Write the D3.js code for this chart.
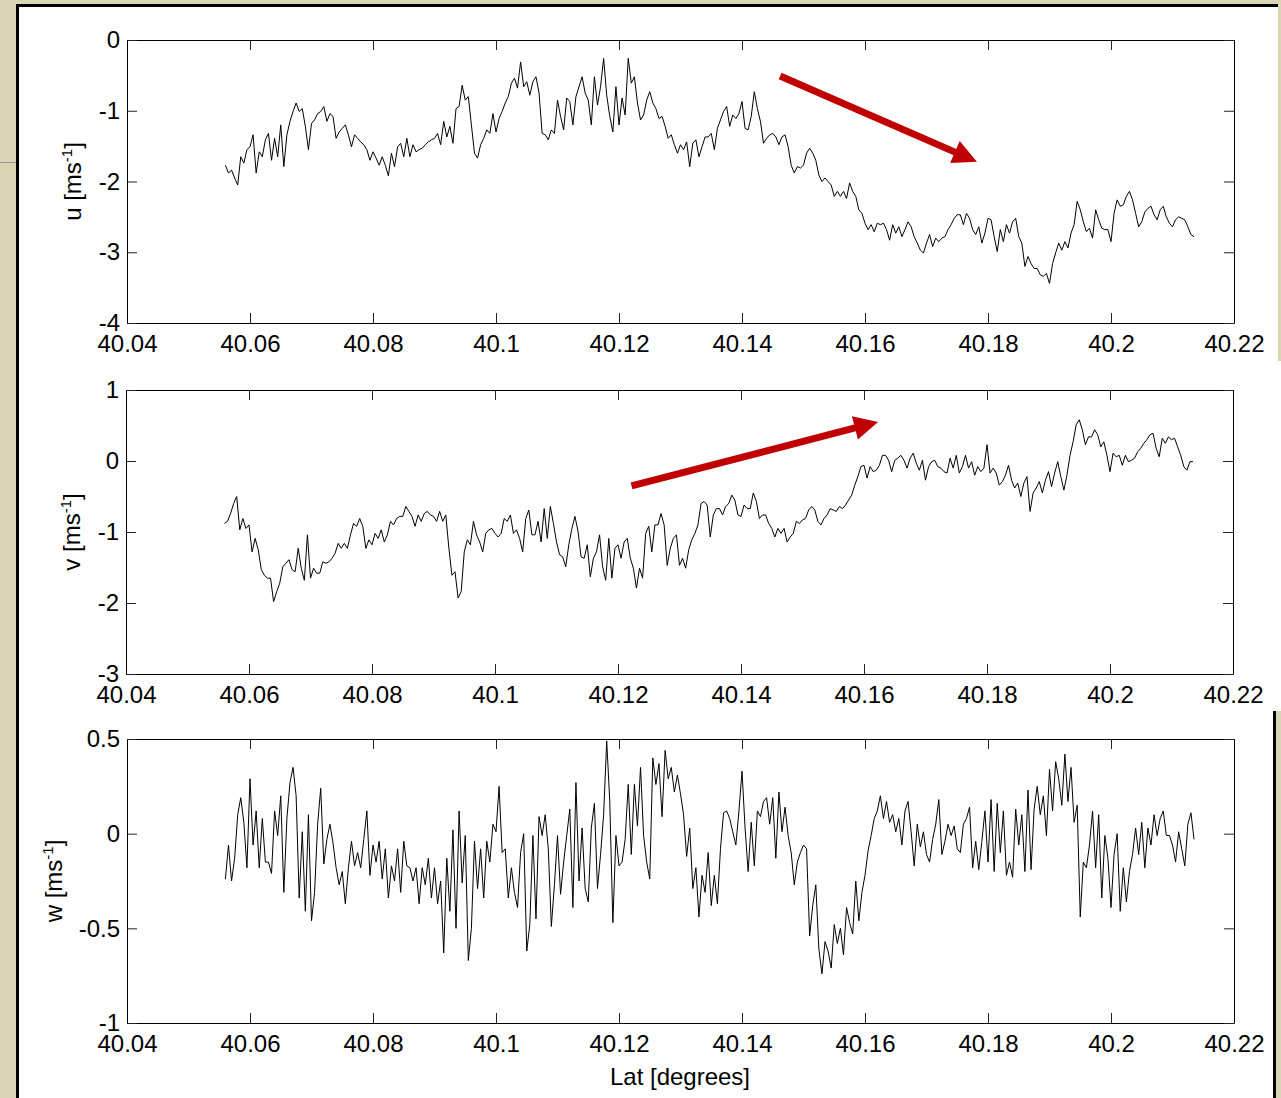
<!DOCTYPE html>
<html>
<head>
<meta charset="utf-8">
<script src="https://cdn.jsdelivr.net/npm/d3@7/dist/d3.min.js"></script>
<style>
  html, body { margin: 0; padding: 0; background: #ffffff; }
  svg { display: block; }
  text { font-family: "Liberation Sans", Arial, sans-serif; fill: #000; }
</style>
</head>
<body>
<div id="chart"></div>
<script>
// samples along the track, every 0.0005 deg of latitude
const latStart = 40.056;
const latStep = 0.0005;

const uVals = [
  -1.77, -1.88, -1.84, -1.95, -2.05, -1.65, -1.74, -1.55, -1.51, -1.34,
  -1.88, -1.58, -1.65, -1.41, -1.32, -1.70, -1.39, -1.65, -1.20, -1.79,
  -1.34, -1.15, -1.01, -0.89, -1.01, -0.97, -1.22, -1.55, -1.18, -1.13,
  -1.04, -1.01, -0.94, -1.15, -1.04, -1.08, -1.39, -1.30, -1.25, -1.20,
  -1.34, -1.51, -1.34, -1.39, -1.44, -1.48, -1.55, -1.70, -1.58, -1.67,
  -1.77, -1.65, -1.77, -1.92, -1.60, -1.79, -1.51, -1.46, -1.65, -1.39,
  -1.65, -1.48, -1.58, -1.55, -1.53, -1.48, -1.44, -1.41, -1.39, -1.32,
  -1.48, -1.15, -1.37, -1.22, -1.46, -0.97, -0.94, -0.64, -0.85, -0.80,
  -1.20, -1.60, -1.67, -1.48, -1.39, -1.27, -1.32, -1.04, -1.30, -1.11,
  -1.01, -0.89, -0.80, -0.61, -0.54, -0.68, -0.31, -0.66, -0.59, -0.78,
  -0.59, -0.52, -0.75, -1.32, -1.34, -1.41, -1.27, -1.32, -0.85, -1.08,
  -1.27, -0.82, -0.87, -1.20, -0.80, -0.66, -0.52, -0.75, -0.85, -1.20,
  -0.52, -0.92, -0.66, -0.26, -0.78, -1.08, -1.30, -0.66, -1.20, -0.82,
  -1.06, -0.26, -0.61, -0.52, -0.89, -1.13, -1.06, -0.85, -0.73, -0.89,
  -0.97, -1.11, -1.08, -1.22, -1.39, -1.34, -1.48, -1.60, -1.48, -1.55,
  -1.44, -1.79, -1.46, -1.41, -1.65, -1.51, -1.37, -1.37, -1.32, -1.55,
  -1.25, -1.13, -1.01, -0.94, -1.22, -1.06, -1.11, -1.04, -0.87, -1.25,
  -1.27, -1.08, -0.73, -0.97, -1.15, -1.46, -1.39, -1.34, -1.32, -1.37,
  -1.48, -1.37, -1.34, -1.51, -1.77, -1.88, -1.79, -1.81, -1.77, -1.60,
  -1.53, -1.60, -1.70, -1.91, -2.00, -1.95, -2.00, -2.05, -2.21, -2.14,
  -2.21, -2.14, -2.24, -2.02, -2.14, -2.21, -2.40, -2.45, -2.59, -2.68,
  -2.61, -2.71, -2.59, -2.61, -2.59, -2.68, -2.83, -2.61, -2.73, -2.64,
  -2.78, -2.68, -2.57, -2.64, -2.78, -2.87, -2.97, -3.01, -2.87, -2.75,
  -2.92, -2.80, -2.85, -2.80, -2.78, -2.68, -2.61, -2.52, -2.47, -2.47,
  -2.61, -2.45, -2.52, -2.68, -2.75, -2.64, -2.87, -2.73, -2.52, -2.54,
  -2.78, -2.99, -2.68, -2.85, -2.61, -2.73, -2.57, -2.52, -2.78, -2.87,
  -3.20, -3.06, -3.16, -3.23, -3.23, -3.32, -3.34, -3.30, -3.44, -3.16,
  -3.01, -2.87, -2.97, -2.85, -2.94, -2.73, -2.61, -2.28, -2.40, -2.57,
  -2.71, -2.66, -2.80, -2.40, -2.54, -2.66, -2.68, -2.68, -2.85, -2.45,
  -2.26, -2.35, -2.33, -2.21, -2.14, -2.26, -2.45, -2.64, -2.57, -2.43,
  -2.38, -2.35, -2.47, -2.54, -2.40, -2.35, -2.50, -2.59, -2.64, -2.54,
  -2.50, -2.52, -2.54, -2.64, -2.75, -2.78
];

const vVals = [
  -0.88, -0.85, -0.74, -0.60, -0.50, -0.97, -0.81, -0.95, -0.90, -1.28,
  -1.09, -1.25, -1.53, -1.61, -1.65, -1.65, -1.98, -1.84, -1.72, -1.49,
  -1.44, -1.39, -1.53, -1.56, -1.23, -1.51, -1.68, -1.04, -1.65, -1.51,
  -1.58, -1.58, -1.42, -1.44, -1.42, -1.37, -1.30, -1.16, -1.23, -1.16,
  -1.23, -1.04, -0.88, -0.92, -0.81, -0.92, -1.23, -1.11, -1.18, -1.02,
  -1.09, -0.97, -1.14, -1.04, -0.85, -0.90, -0.81, -0.78, -0.78, -0.64,
  -0.71, -0.78, -0.92, -0.76, -0.85, -0.74, -0.71, -0.76, -0.78, -0.85,
  -0.71, -0.85, -0.76, -1.23, -1.61, -1.56, -1.93, -1.84, -1.28, -1.11,
  -1.18, -0.85, -1.04, -1.14, -1.28, -1.02, -0.97, -0.95, -1.02, -1.07,
  -1.02, -0.81, -0.85, -0.76, -1.02, -0.97, -1.09, -1.28, -0.81, -0.69,
  -1.04, -1.04, -0.85, -1.14, -0.67, -1.09, -0.64, -0.88, -1.14, -1.32,
  -1.35, -1.49, -1.18, -0.95, -0.78, -0.99, -1.35, -1.37, -1.18, -1.63,
  -1.37, -1.28, -1.04, -1.49, -1.68, -1.09, -1.65, -1.23, -1.18, -1.37,
  -1.14, -1.09, -1.37, -1.51, -1.79, -1.51, -1.65, -1.02, -0.92, -1.28,
  -0.90, -0.90, -0.74, -0.90, -1.47, -1.23, -1.09, -1.04, -1.47, -1.37,
  -1.51, -1.25, -1.11, -1.02, -0.90, -0.60, -0.57, -0.62, -1.07, -0.76,
  -0.67, -0.67, -0.76, -0.64, -0.60, -0.48, -0.55, -0.76, -0.78, -0.62,
  -0.67, -0.67, -0.45, -0.57, -0.81, -0.76, -0.76, -0.88, -0.95, -1.07,
  -0.95, -1.02, -0.95, -1.14, -1.07, -1.02, -0.85, -0.88, -0.83, -0.81,
  -0.69, -0.64, -0.69, -0.85, -0.90, -0.81, -0.76, -0.67, -0.69, -0.71,
  -0.64, -0.67, -0.62, -0.55, -0.48, -0.34, -0.22, -0.08, -0.06, -0.24,
  -0.08, -0.15, -0.13, -0.06, 0.08, 0.08, 0.01, -0.15, 0.01, 0.04,
  0.08, 0.01, -0.10, 0.04, 0.11, -0.03, -0.13, 0.01, -0.27, -0.08,
  -0.01, 0.01, -0.08, -0.10, -0.15, -0.17, 0.04, -0.10, 0.08, -0.17,
  -0.08, 0.08, -0.10, -0.01, -0.20, -0.08, -0.15, -0.10, 0.23, -0.17,
  -0.10, -0.17, -0.34, -0.29, -0.20, -0.06, -0.27, -0.38, -0.31, -0.50,
  -0.31, -0.22, -0.71, -0.45, -0.38, -0.29, -0.45, -0.27, -0.15, -0.36,
  -0.17, -0.01, -0.22, -0.41, -0.20, 0.08, 0.27, 0.51, 0.58, 0.44,
  0.23, 0.34, 0.34, 0.44, 0.37, 0.20, 0.27, 0.08, -0.15, 0.11,
  0.06, 0.08, -0.06, 0.08, -0.01, 0.01, 0.04, 0.13, 0.18, 0.25,
  0.30, 0.37, 0.39, 0.18, 0.06, 0.32, 0.25, 0.34, 0.30, 0.32,
  0.20, 0.08, -0.08, -0.13, -0.01, -0.01
];

const wVals = [
  -0.24, -0.06, -0.25, -0.13, 0.10, 0.19, 0.06, -0.18, 0.29, -0.06,
  0.12, -0.18, 0.08, -0.15, -0.15, -0.21, 0.12, -0.01, 0.20, -0.31,
  0.08, 0.27, 0.35, 0.20, -0.34, 0.01, -0.41, 0.10, -0.46, -0.31,
  0.05, 0.24, -0.16, -0.03, 0.05, -0.05, -0.18, -0.27, -0.20, -0.37,
  -0.18, -0.04, -0.17, -0.10, -0.18, -0.03, 0.12, -0.22, -0.06, -0.15,
  -0.04, -0.24, -0.08, -0.34, -0.17, -0.25, -0.08, -0.31, -0.04, -0.17,
  -0.18, -0.25, -0.18, -0.37, -0.18, -0.27, -0.13, -0.34, -0.18, -0.37,
  -0.25, -0.63, -0.13, -0.41, 0.02, -0.50, 0.12, -0.26, -0.01, -0.67,
  -0.50, -0.04, -0.29, -0.08, -0.34, -0.04, -0.15, 0.05, 0.01, 0.25,
  -0.10, -0.08, -0.34, -0.18, -0.31, -0.39, -0.10, 0.00, -0.62, -0.48,
  -0.01, -0.45, 0.09, -0.01, 0.10, -0.08, -0.49, -0.27, -0.01, -0.32,
  -0.15, -0.01, 0.13, -0.39, 0.27, -0.25, 0.03, -0.29, -0.36, 0.03,
  0.16, -0.29, -0.11, 0.10, 0.49, 0.17, -0.47, -0.01, -0.17, -0.15,
  -0.03, 0.26, -0.11, 0.26, 0.04, 0.35, -0.01, -0.15, -0.24, 0.40,
  0.26, 0.37, 0.09, 0.44, 0.29, 0.35, 0.22, 0.31, 0.21, 0.10,
  -0.12, 0.03, -0.29, -0.18, -0.44, -0.22, -0.31, -0.10, -0.38, -0.22,
  -0.37, -0.08, 0.11, 0.12, 0.08, 0.01, -0.06, 0.12, 0.33, 0.03,
  -0.20, 0.06, -0.17, 0.12, 0.09, 0.17, 0.19, 0.05, 0.19, -0.13,
  0.22, 0.01, 0.14, -0.01, -0.10, -0.27, -0.15, -0.10, -0.06, -0.08,
  -0.54, -0.38, -0.27, -0.61, -0.74, -0.57, -0.62, -0.71, -0.48, -0.58,
  -0.50, -0.64, -0.39, -0.47, -0.53, -0.25, -0.46, -0.31, -0.22, -0.09,
  -0.01, 0.08, 0.12, 0.20, 0.08, 0.17, 0.06, 0.10, 0.01, 0.08,
  -0.06, 0.12, 0.17, 0.01, -0.17, 0.05, -0.07, 0.01, -0.11, -0.15,
  -0.03, 0.05, 0.18, -0.11, -0.04, 0.05, -0.01, 0.04, -0.08, -0.10,
  0.05, 0.08, 0.14, -0.18, -0.04, -0.19, -0.04, 0.12, -0.15, 0.18,
  -0.20, 0.16, -0.10, 0.12, -0.22, -0.15, -0.23, 0.13, -0.06, 0.10,
  -0.20, 0.23, -0.19, 0.13, 0.25, 0.10, 0.20, -0.01, 0.34, 0.12,
  0.38, 0.29, 0.15, 0.42, 0.17, 0.35, 0.06, 0.15, -0.44, -0.15,
  -0.18, -0.06, 0.12, -0.18, 0.10, -0.34, -0.01, -0.13, -0.39, -0.11,
  0.00, -0.41, -0.18, -0.36, -0.20, -0.11, 0.03, -0.11, 0.06, -0.18,
  0.03, -0.06, 0.10, -0.01, 0.08, 0.12, -0.01, -0.01, -0.06, -0.15,
  0.01, -0.08, -0.17, 0.05, 0.11, -0.03
];

const xTicks = [40.04, 40.06, 40.08, 40.10, 40.12, 40.14, 40.16, 40.18, 40.20, 40.22];
const xTickLabels = ['40.04', '40.06', '40.08', '40.1', '40.12', '40.14', '40.16', '40.18', '40.2', '40.22'];
const uTicks = [0, -1, -2, -3, -4];
const uTickLabels = ['0', '-1', '-2', '-3', '-4'];
const vTicks = [1, 0, -1, -2, -3];
const vTickLabels = ['1', '0', '-1', '-2', '-3'];
const wTicks = [0.5, 0, -0.5, -1];
const wTickLabels = ['0.5', '0', '-0.5', '-1'];

// red trend arrows, [lat, value] start -> tip
const uArrow = [[40.1462, -0.51], [40.1782, -1.72]];
const vArrow = [[40.1222, -0.35], [40.1623, 0.55]];

const W = 1281, H = 1098;
const FONT = 24;

const svg = d3.select('#chart').append('svg')
  .attr('width', W)
  .attr('height', H);

// slide-ish frame around the figure
svg.append('rect').attr('width', W).attr('height', H).attr('fill', '#dad6b3');
svg.append('rect').attr('x', 19).attr('y', 7).attr('width', 1259).attr('height', H - 7).attr('fill', '#fff');
svg.append('rect').attr('x', 1278).attr('y', 361).attr('width', 3).attr('height', 350).attr('fill', '#fff');
svg.append('rect').attr('x', 16).attr('y', 4).attr('width', 1262).attr('height', 3).attr('fill', '#000');
svg.append('rect').attr('x', 16).attr('y', 4).attr('width', 3).attr('height', H - 4).attr('fill', '#000');
svg.append('rect').attr('x', 1276).attr('y', 711).attr('width', 5).attr('height', H - 711).attr('fill', '#dad6b3');
svg.append('rect').attr('x', 1273).attr('y', 711).attr('width', 3).attr('height', H - 711).attr('fill', '#000');
svg.append('rect').attr('x', 0).attr('y', 162).attr('width', 16).attr('height', 1).attr('fill', '#9a9a9a');

const panels = [
  { name: 'u', vals: uVals, left: 127, right: 1234, top: 40, bottom: 323,
    domain: [-4, 0], ticks: uTicks, tickLabels: uTickLabels, labelX: 80.5, arrow: uArrow },
  { name: 'v', vals: vVals, left: 126, right: 1233, top: 390, bottom: 674,
    domain: [-3, 1], ticks: vTicks, tickLabels: vTickLabels, labelX: 79.5, arrow: vArrow },
  { name: 'w', vals: wVals, left: 127, right: 1234, top: 739, bottom: 1023,
    domain: [-1, 0.5], ticks: wTicks, tickLabels: wTickLabels, labelX: 62, arrow: null }
];

const TICK = 10;

panels.forEach(p => {
  const x = d3.scaleLinear().domain([40.04, 40.22]).range([p.left, p.right]);
  const y = d3.scaleLinear().domain(p.domain).range([p.bottom, p.top]);
  const g = svg.append('g').attr('class', 'panel-' + p.name);

  const xAxis = d3.axisBottom(x).tickValues(xTicks)
    .tickFormat((d, i) => xTickLabels[i]).tickSize(-TICK).tickSizeOuter(0).tickPadding(12);
  const xTop = d3.axisTop(x).tickValues(xTicks).tickFormat('').tickSize(-TICK).tickSizeOuter(0);
  const yAxis = d3.axisLeft(y).tickValues(p.ticks)
    .tickFormat((d, i) => p.tickLabels[i]).tickSize(-TICK).tickSizeOuter(0).tickPadding(7);
  const yRight = d3.axisRight(y).tickValues(p.ticks).tickFormat('').tickSize(-TICK).tickSizeOuter(0);

  g.append('g').attr('transform', `translate(0,${p.bottom})`).call(xAxis);
  g.append('g').attr('transform', `translate(0,${p.top})`).call(xTop);
  g.append('g').attr('transform', `translate(${p.left},0)`).call(yAxis);
  g.append('g').attr('transform', `translate(${p.right},0)`).call(yRight);

  g.selectAll('.domain').attr('stroke', '#000').attr('stroke-width', 1);
  g.selectAll('.tick line').attr('stroke', '#222').attr('stroke-width', 1);
  g.selectAll('.tick text')
    .attr('font-family', '"Liberation Sans", Arial, sans-serif')
    .attr('font-size', FONT)
    .attr('fill', '#000');

  const line = d3.line()
    .x((d, i) => x(latStart + i * latStep))
    .y(d => y(d));

  g.append('path')
    .datum(p.vals)
    .attr('fill', 'none')
    .attr('stroke', '#000')
    .attr('stroke-width', 1)
    .attr('d', line);

  // y label with superscript unit
  const lbl = g.append('text')
    .attr('transform', `translate(${p.labelX},${(p.top + p.bottom) / 2}) rotate(-90)`)
    .attr('text-anchor', 'middle')
    .attr('font-size', FONT);
  lbl.append('tspan').text(p.name + ' [ms');
  lbl.append('tspan').attr('font-size', 15).attr('dy', -9).text('-1');
  lbl.append('tspan').attr('dy', 9).text(']');

  if (p.arrow) {
    const [a, b] = p.arrow;
    const x0 = x(a[0]), y0 = y(a[1]), x1 = x(b[0]), y1 = y(b[1]);
    const len = Math.hypot(x1 - x0, y1 - y0);
    const ux = (x1 - x0) / len, uy = (y1 - y0) / len;
    const headLen = 24, headHalf = 12;
    const bx = x1 - ux * headLen, by = y1 - uy * headLen;
    g.append('line')
      .attr('x1', x0).attr('y1', y0)
      .attr('x2', bx + ux * 2).attr('y2', by + uy * 2)
      .attr('stroke', '#c00000')
      .attr('stroke-width', 7);
    g.append('polygon')
      .attr('points', [[x1, y1], [bx - uy * headHalf, by + ux * headHalf], [bx + uy * headHalf, by - ux * headHalf]].join(' '))
      .attr('fill', '#c00000');
  }
});

svg.append('text')
  .attr('x', 680)
  .attr('y', 1085)
  .attr('text-anchor', 'middle')
  .attr('font-size', FONT)
  .text('Lat [degrees]');
</script>
</body>
</html>
